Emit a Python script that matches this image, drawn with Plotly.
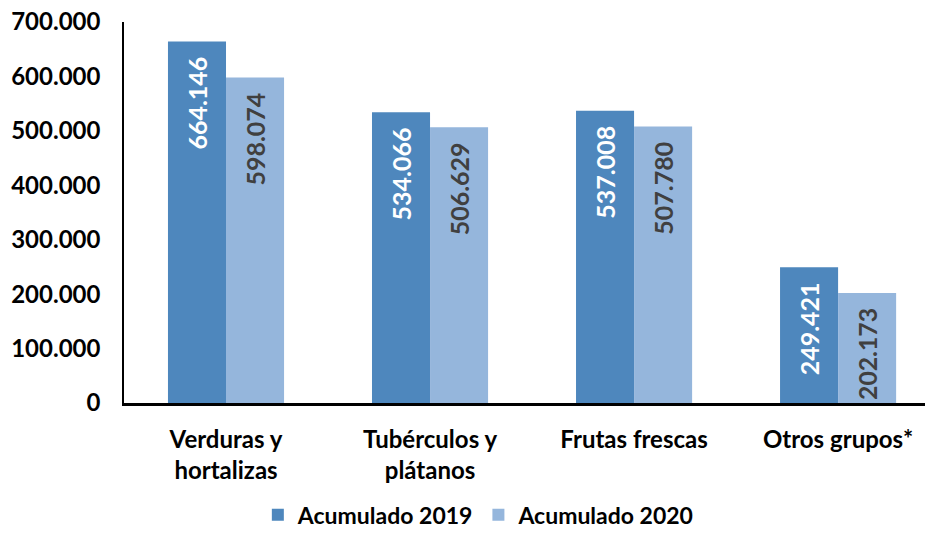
import plotly.graph_objects as go

categories = ["Verduras y<br>hortalizas", "Tubérculos y<br>plátanos", "Frutas frescas", "Otros grupos*"]
acum_2019 = [664146, 534066, 537008, 249421]
acum_2020 = [598074, 506629, 507780, 202173]
y_ticks = [0, 100000, 200000, 300000, 400000, 500000, 600000, 700000]

FONT = "Lato"
PAD = "\u00a0\u00a0"

fig = go.Figure()
fig.add_trace(go.Bar(
    x=categories, y=acum_2019, name="Acumulado 2019",
    marker=dict(color="#4E87BD", line=dict(width=0)),
    texttemplate="%{y:,d}" + PAD, textposition="inside", insidetextanchor="end",
    textangle=-90, textfont=dict(family=FONT, size=25, color="white", weight="bold"),
))
fig.add_trace(go.Bar(
    x=categories, y=acum_2020, name="Acumulado 2020",
    marker=dict(color="#95B6DC", line=dict(width=0)),
    texttemplate="%{y:,d}" + PAD, textposition="inside", insidetextanchor="end",
    textangle=-90, textfont=dict(family=FONT, size=25, color="#404040", weight="bold"),
))

fig.update_layout(
    width=925, height=537,
    margin=dict(l=124, r=0, t=22, b=134, autoexpand=False),
    paper_bgcolor="white", plot_bgcolor="white",
    separators=",.",
    barmode="group", bargap=0.431, bargroupgap=0,
    font=dict(family=FONT, size=24, color="black", weight="bold"),
    showlegend=True,
    legend=dict(orientation="h", x=0.443, xanchor="center", y=-0.35, yanchor="bottom",
                font=dict(family=FONT, size=23, color="black", weight="bold"),
                traceorder="normal", itemwidth=30, bgcolor="rgba(0,0,0,0)"),
    xaxis=dict(range=[-0.5, 3.426], showline=True, linecolor="black", linewidth=2.5,
               ticks="", showgrid=False, automargin=False,
               tickfont=dict(family=FONT, size=24, weight="bold"),
               ticklabelstandoff=13),
    yaxis=dict(range=[0, 700000], tickvals=y_ticks, tickformat=",d",
               showline=True, linecolor="black", linewidth=1.5, ticks="",
               showgrid=False, zeroline=False, automargin=False,
               tickfont=dict(family=FONT, size=24, weight="bold"),
               ticklabelstandoff=17),
)

fig.write_html("out.html")
